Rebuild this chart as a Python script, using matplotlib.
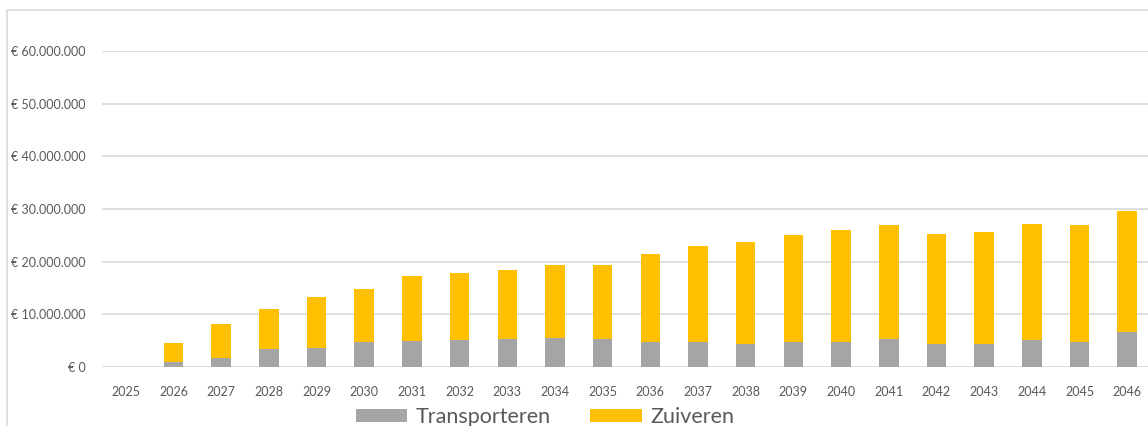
import numpy as np
import matplotlib
matplotlib.use("Agg")
import matplotlib.pyplot as plt
from matplotlib.patches import Rectangle
from matplotlib.ticker import FuncFormatter

plt.rcParams['font.family'] = ['Lato', 'DejaVu Sans']

years = [str(y) for y in range(2025, 2047)]
transporteren = [0.0, 1.0, 1.8, 3.4, 3.7, 4.8, 4.9, 5.2, 5.4, 5.6, 5.4,
                 4.8, 4.8, 4.3, 4.8, 4.8, 5.4, 4.3, 4.3, 5.1, 4.8, 6.6]
totaal = [0.0, 4.55, 8.15, 11.0, 13.3, 14.9, 17.3, 17.8, 18.4, 19.3, 19.4,
          21.4, 23.0, 23.7, 25.0, 26.0, 27.0, 25.2, 25.7, 27.2, 27.0, 29.6]

transporteren = np.array(transporteren) * 1e6
zuiveren = np.array(totaal) * 1e6 - transporteren

grey = '#A5A5A5'
gold = '#FFC000'
txt = '#595959'

fig = plt.figure(figsize=(11.48, 4.26), dpi=100)
W, H = 1148, 426

# chart area border (cut off on the right and bottom)
fig.patches.append(Rectangle((7 / W, -0.1), 1.2, (426 - 10) / H + 0.1,
                             transform=fig.transFigure, fill=False,
                             edgecolor='#D9D9D9', linewidth=1.2))

ax = fig.add_axes([102 / W, (H - 367) / H, (1151 - 102) / W, (367 - 51) / H])

x = np.arange(len(years))
ax.bar(x, transporteren, width=0.41, color=grey, label='Transporteren', zorder=3)
ax.bar(x, zuiveren, width=0.41, bottom=transporteren, color=gold,
       label='Zuiveren', zorder=3)

ax.set_xlim(-0.5, len(years) - 0.5)
ax.set_ylim(0, 60e6)
ax.set_yticks(np.arange(0, 60e6 + 1, 10e6))
ax.yaxis.set_major_formatter(FuncFormatter(
    lambda v, p: '€ ' + f'{int(v):,}'.replace(',', '.')))
ax.set_xticks(x)
ax.set_xticklabels(years)

ax.grid(axis='y', color='#D9D9D9', linewidth=1.2, zorder=0)
for s in ax.spines.values():
    s.set_visible(False)
ax.tick_params(axis='both', length=0, colors=txt, labelsize=9)
ax.tick_params(axis='x', pad=14)
ax.tick_params(axis='y', pad=12)

fig.legend(loc='center', bbox_to_anchor=(545 / W, (H - 417) / H), ncol=2,
           frameon=False, fontsize=15.5, labelcolor=txt, handlelength=2.4,
           handleheight=0.6, handletextpad=0.4, columnspacing=1.8)

fig.savefig('out.png', dpi=100)
